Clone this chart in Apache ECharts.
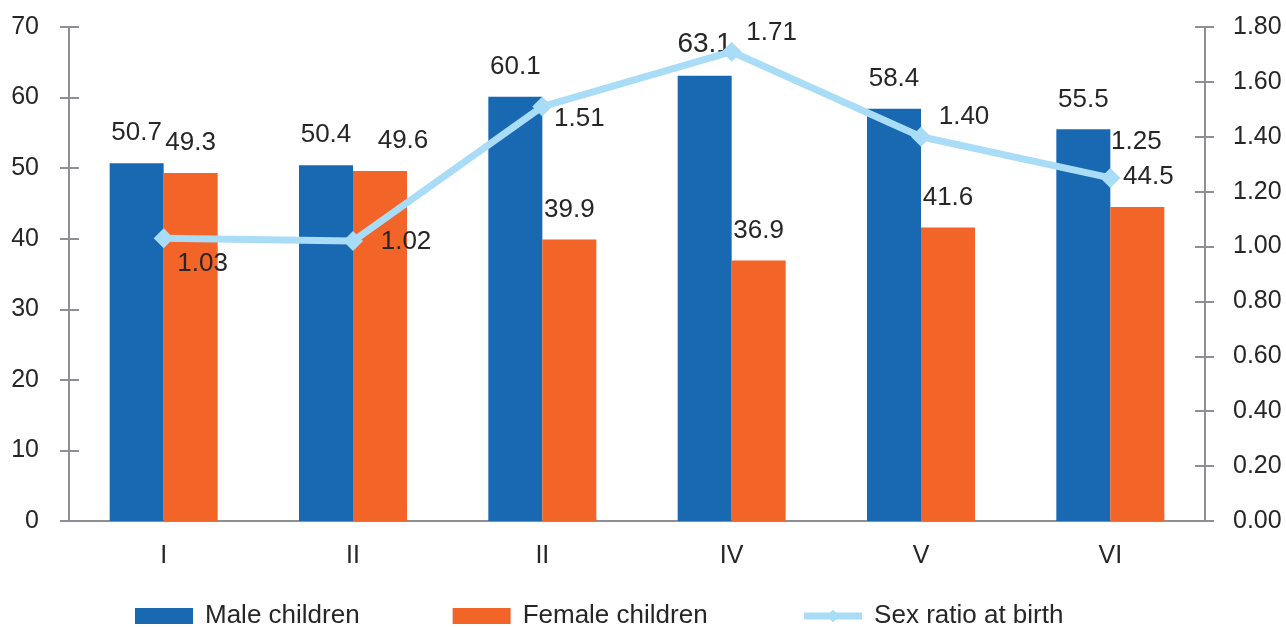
<!DOCTYPE html>
<html>
<head>
<meta charset="utf-8">
<script src="https://cdn.jsdelivr.net/npm/echarts@6/dist/echarts.min.js"></script>
<style>
  html, body { margin: 0; padding: 0; background: #ffffff; }
  #chart { width: 1286px; height: 627px; }
</style>
</head>
<body>
<div id="chart"></div>
<script>
// Birth order groups and their values
const categories = ['I', 'II', 'II', 'IV', 'V', 'VI'];
const maleChildren = [50.7, 50.4, 60.1, 63.1, 58.4, 55.5];
const femaleChildren = [49.3, 49.6, 39.9, 36.9, 41.6, 44.5];
const sexRatio = [1.03, 1.02, 1.51, 1.71, 1.40, 1.25];

// Label nudges (pixels) so labels clear the ratio line
const femaleLabelShift = [0, 23, 0, 0, 0, 11];
const ratioLabelShift = [[39, 26], [53, 1], [37, 12], [40, -19], [43, -20], [26, -36]];

const FONT = '"Liberation Sans", Arial, Helvetica, sans-serif';
const TEXT = '#262626';
const AXIS = '#8e8e93';
const BLUE = '#1868b2';
const ORANGE = '#f26428';
const SKY = '#a9ddf7';

const chart = echarts.init(document.getElementById('chart'), null, { renderer: 'canvas' });

const axisBase = {
  type: 'value',
  splitLine: { show: false },
  axisLine: { show: true, lineStyle: { color: AXIS, width: 2 } },
  axisTick: { show: true, length: 9, lineStyle: { color: AXIS, width: 2 } },
  axisLabel: { fontFamily: FONT, fontSize: 25, color: TEXT }
};

const innerTicks = {
  type: 'value',
  splitLine: { show: false },
  axisLine: { show: false },
  axisLabel: { show: false },
  axisTick: { show: true, inside: true, length: 10, lineStyle: { color: AXIS, width: 2 } }
};

chart.setOption({
  animation: false,
  backgroundColor: '#ffffff',
  grid: { left: 69, right: 81, top: 27, bottom: 106, containLabel: false },
  legend: {
    left: 135,
    top: 603,
    padding: 0,
    itemWidth: 58,
    itemHeight: 16,
    itemGap: 93,
    textStyle: { fontFamily: FONT, fontSize: 26, color: TEXT, padding: [0, 0, 0, 7] },
    data: [
      { name: 'Male children', icon: 'rect' },
      { name: 'Female children', icon: 'rect' },
      {
        name: 'Sex ratio at birth',
        lineStyle: { color: SKY, width: 7 },
        itemStyle: { color: SKY }
      }
    ]
  },
  xAxis: {
    type: 'category',
    data: categories,
    boundaryGap: true,
    axisLine: { show: true, lineStyle: { color: AXIS, width: 2 } },
    axisTick: { show: false },
    axisLabel: { fontFamily: FONT, fontSize: 25, color: TEXT, margin: 23 }
  },
  yAxis: [
    Object.assign({}, axisBase, {
      position: 'left', min: 0, max: 70, interval: 10,
      axisLabel: Object.assign({}, axisBase.axisLabel, { margin: 30 })
    }),
    Object.assign({}, axisBase, {
      position: 'right', min: 0, max: 1.8, interval: 0.2,
      axisLabel: Object.assign({}, axisBase.axisLabel, {
        margin: 28,
        formatter: v => v.toFixed(2)
      })
    }),
    Object.assign({}, innerTicks, { position: 'left', min: 0, max: 70, interval: 10 }),
    Object.assign({}, innerTicks, { position: 'right', min: 0, max: 1.8, interval: 0.2 })
  ],
  series: [
    {
      name: 'Male children',
      type: 'bar',
      yAxisIndex: 0,
      barWidth: 54,
      barGap: '0%',
      itemStyle: { color: BLUE },
      label: {
        show: true, position: 'top', distance: 17,
        fontFamily: FONT, fontSize: 26, color: TEXT,
        formatter: p => p.value.toFixed(1)
      },
      data: maleChildren.map(v => v === Math.max(...maleChildren)
        ? { value: v, label: { fontSize: 28 } }
        : v)
    },
    {
      name: 'Female children',
      type: 'bar',
      yAxisIndex: 0,
      barWidth: 54,
      barGap: '0%',
      itemStyle: { color: ORANGE },
      label: {
        show: true, position: 'top', distance: 17,
        fontFamily: FONT, fontSize: 26, color: TEXT,
        formatter: p => p.value.toFixed(1)
      },
      data: femaleChildren.map((v, i) => ({
        value: v,
        label: { offset: [femaleLabelShift[i], 0] }
      }))
    },
    {
      name: 'Sex ratio at birth',
      type: 'line',
      yAxisIndex: 1,
      z: 5,
      symbol: 'diamond',
      symbolSize: 20,
      lineStyle: { color: SKY, width: 7 },
      itemStyle: { color: SKY },
      label: {
        show: true, position: 'inside',
        fontFamily: FONT, fontSize: 26, color: TEXT,
        formatter: p => p.value.toFixed(2)
      },
      data: sexRatio.map((v, i) => ({
        value: v,
        label: { offset: ratioLabelShift[i] }
      }))
    }
  ]
});
</script>
</body>
</html>
